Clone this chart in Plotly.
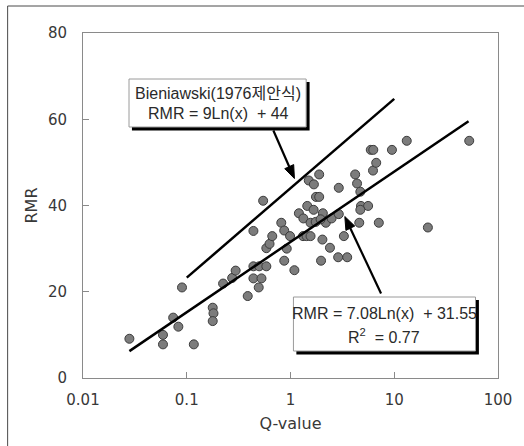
import numpy as np
import plotly.graph_objects as go

# ---- data ----
q_values = [0.028, 0.059, 0.059, 0.074, 0.083, 0.090, 0.117, 0.178, 0.181, 0.178,
            0.224, 0.274, 0.296, 0.387, 0.439, 0.439, 0.439, 0.499, 0.525, 0.494,
            0.585, 0.545, 0.585, 0.628, 0.667, 0.815, 0.87, 0.99, 0.92, 0.87,
            1.09, 1.205, 1.33, 1.45, 1.56, 1.67, 1.76, 1.89, 1.89, 1.50,
            1.68, 2.05, 1.32, 1.43, 1.56, 2.03, 2.40, 1.97, 2.88, 3.52,
            3.27, 2.19, 2.49, 2.92, 2.92, 4.2, 4.38, 4.71, 4.78, 5.6,
            4.71, 4.6, 7.1, 6.24, 6.7, 5.94, 6.28, 9.5, 13.2, 52.8,
            21.1, 1.75, 1.95]
rmr_values = [9.1, 10.0, 7.8, 14.0, 11.9, 21.0, 7.8, 16.3, 15.0, 13.2,
              21.9, 23.2, 24.9, 19.0, 34.1, 25.9, 23.1, 25.9, 23.1, 21.0,
              25.9, 41.1, 30.1, 31.1, 32.9, 36.0, 34.2, 32.9, 30.0, 27.2,
              25.0, 38.2, 37.0, 39.9, 36.0, 39.0, 42.0, 42.0, 47.2, 45.8,
              44.9, 38.2, 32.9, 32.9, 32.9, 32.1, 30.2, 27.2, 28.0, 28.0,
              32.9, 36.0, 37.0, 38.0, 44.1, 47.2, 45.1, 43.2, 39.9, 39.9,
              39.0, 36.0, 36.0, 48.1, 49.9, 52.9, 52.9, 52.9, 55.0, 55.0,
              34.9, 36.2, 36.8]

fit_range = [0.028, 52.0]          # RMR = 7.08 Ln(x) + 31.55
fit_coef = [7.08, 31.55]
bien_range = [0.1, 10.0]           # RMR = 9 Ln(x) + 44
bien_coef = [9.0, 44.0]

x_tick_vals = [0.01, 0.1, 1, 10, 100]
x_tick_text = ["0.01", "0.1", "1", "10", "100"]
y_tick_vals = [0, 20, 40, 60, 80]

x_title = "Q-value"
y_title = "RMR"
label_bien = ["Bieniawski(1976제안식)", "RMR = 9Ln(x)  + 44"]
label_fit = ["RMR = 7.08Ln(x)  + 31.55", "R<sup>2</sup>  = 0.77"]

# ---- layout geometry (pixels) ----
W, H = 524, 446
L, R, T, B = 83, 507, 33, 378


def px(xp):
    return (xp - L) / (R - L)


def py(yp):
    return (B - yp) / (B - T)


fit_x = np.geomspace(fit_range[0], fit_range[1], 60)
fit_y = fit_coef[0] * np.log(fit_x) + fit_coef[1]
bien_x = np.geomspace(bien_range[0], bien_range[1], 60)
bien_y = bien_coef[0] * np.log(bien_x) + bien_coef[1]

fig = go.Figure()
fig.add_trace(go.Scatter(x=q_values, y=rmr_values, mode="markers",
                         marker=dict(size=9, color="#7c7c7c",
                                     line=dict(color="#3c3c3c", width=1)),
                         showlegend=False))
fig.add_trace(go.Scatter(x=fit_x, y=fit_y, mode="lines",
                         line=dict(color="black", width=2.5), showlegend=False))
fig.add_trace(go.Scatter(x=bien_x, y=bien_y, mode="lines",
                         line=dict(color="black", width=2.5), showlegend=False))

tickfont = dict(family="DejaVu Sans", size=15, color="#383838")
titlefont = dict(family="DejaVu Sans", size=16, color="#383838")

fig.update_layout(
    width=W, height=H,
    margin=dict(l=L, r=W - R, t=T, b=H - B, pad=0),
    paper_bgcolor="white", plot_bgcolor="white",
    xaxis=dict(type="log", range=[-2, 2], tickvals=x_tick_vals, ticktext=x_tick_text,
               showgrid=False, zeroline=False, showline=True, linecolor="#8a8a8a",
               linewidth=1, mirror=True, ticks="inside", ticklen=6, tickcolor="#8a8a8a",
               tickfont=tickfont, ticklabelstandoff=8,
               title=dict(text=x_title, font=titlefont, standoff=9)),
    yaxis=dict(range=[0, 80], tickvals=y_tick_vals, showgrid=False, zeroline=False,
               showline=True, linecolor="#8a8a8a", linewidth=1, mirror=True,
               ticks="inside", ticklen=6, tickcolor="#8a8a8a",
               tickfont=tickfont, ticklabelstandoff=12,
               title=dict(text=y_title, font=titlefont, standoff=6)),
)

shapes = []
# outer chart frame (extends beyond right/bottom of the picture)
shapes.append(dict(type="rect", xref="paper", yref="paper",
                   x0=px(6), x1=px(540), y0=py(460), y1=py(6),
                   line=dict(color="#4a4a4a", width=1), fillcolor="rgba(0,0,0,0)",
                   layer="below"))
# label boxes with drop shadows
for (x0, y0, x1, y1) in [(130, 79, 311, 127), (298, 297, 484, 351)]:
    shapes.append(dict(type="rect", xref="paper", yref="paper",
                       x0=px(x0 + 3), x1=px(x1 + 3.5), y0=py(y1 + 3.5), y1=py(y0 + 3),
                       line=dict(width=0), fillcolor="black", layer="above"))
    shapes.append(dict(type="rect", xref="paper", yref="paper",
                       x0=px(x0), x1=px(x1), y0=py(y1), y1=py(y0),
                       line=dict(color="#9a9a9a", width=1), fillcolor="white",
                       layer="above"))

# arrows (tail pixel -> head pixel), drawn as line + filled triangle
arrows = [((277.5, 130.5), (299.0, 178.5)), ((387.5, 293.5), (350.5, 216.5))]
head_len, head_half = 13.0, 5.0
for (tx, ty), (hx, hy) in arrows:
    dx, dy = hx - tx, hy - ty
    n = (dx * dx + dy * dy) ** 0.5
    ux, uy = dx / n, dy / n
    bx, by = hx - ux * head_len, hy - uy * head_len
    shapes.append(dict(type="line", xref="paper", yref="paper",
                       x0=px(tx), y0=py(ty), x1=px(bx + ux * 2), y1=py(by + uy * 2),
                       line=dict(color="black", width=2.2), layer="above"))
    c1 = (bx - uy * head_half, by + ux * head_half)
    c2 = (bx + uy * head_half, by - ux * head_half)
    path = "M {} {} L {} {} L {} {} Z".format(px(hx), py(hy), px(c1[0]), py(c1[1]),
                                               px(c2[0]), py(c2[1]))
    shapes.append(dict(type="path", xref="paper", yref="paper", path=path,
                       fillcolor="black", line=dict(color="black", width=1),
                       layer="above"))
fig.update_layout(shapes=shapes)

boxfont = dict(family="Liberation Sans, Noto Sans CJK KR", size=16, color="#2a2a2a")
annotations = [
    dict(xref="paper", yref="paper", x=px(221), y=py(93), text=label_bien[0],
         showarrow=False, font=boxfont, xanchor="center", yanchor="middle"),
    dict(xref="paper", yref="paper", x=px(221), y=py(114), text=label_bien[1],
         showarrow=False, font=boxfont, xanchor="center", yanchor="middle"),
    dict(xref="paper", yref="paper", x=px(391), y=py(313), text=label_fit[0],
         showarrow=False, font=boxfont, xanchor="center", yanchor="middle"),
    dict(xref="paper", yref="paper", x=px(391), y=py(336), text=label_fit[1],
         showarrow=False, font=boxfont, xanchor="center", yanchor="middle"),
]
fig.update_layout(annotations=annotations)

fig.write_html("out.html")
